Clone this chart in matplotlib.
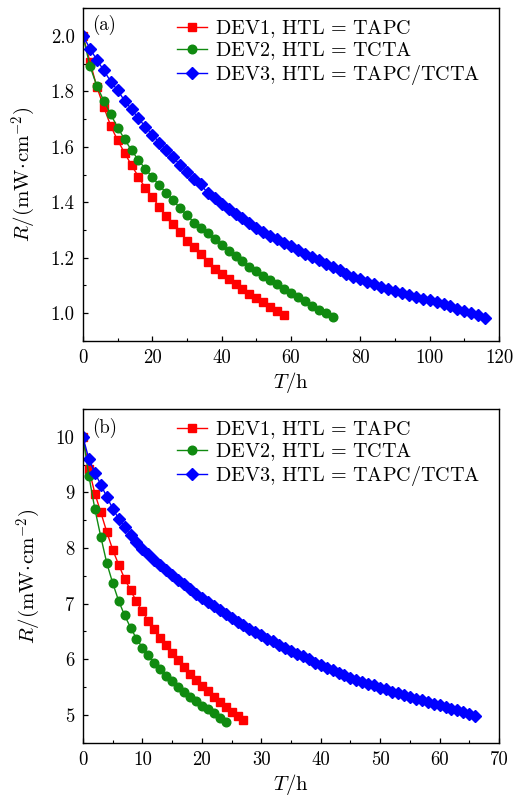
import matplotlib
matplotlib.use("Agg")
import matplotlib.pyplot as plt
from matplotlib.ticker import MultipleLocator, FormatStrFormatter

plt.rcParams['font.family'] = ['cmr10', 'DejaVu Serif']
plt.rcParams['mathtext.fontset'] = 'cm'
plt.rcParams['axes.unicode_minus'] = False

# ---------------- data: panel (a) ----------------
a_t1 = list(range(0, 60, 2))
a_r1 = [2.000, 1.907, 1.815, 1.743, 1.675, 1.623, 1.578, 1.533, 1.492, 1.450,
        1.420, 1.382, 1.351, 1.321, 1.291, 1.262, 1.239, 1.213, 1.185, 1.161,
        1.143, 1.125, 1.107, 1.089, 1.071, 1.055, 1.039, 1.023, 1.007, 0.992]
a_t2 = list(range(0, 74, 2))
a_r2 = [2.000, 1.891, 1.819, 1.766, 1.717, 1.669, 1.627, 1.587, 1.552, 1.520,
        1.491, 1.461, 1.434, 1.408, 1.378, 1.354, 1.327, 1.306, 1.288, 1.266,
        1.245, 1.225, 1.207, 1.188, 1.167, 1.153, 1.135, 1.119, 1.105, 1.088,
        1.073, 1.057, 1.043, 1.026, 1.013, 1.000, 0.987]
a_t3 = list(range(0, 118, 2))
a_r3 = [2.000, 1.954, 1.913, 1.875, 1.835, 1.803, 1.766, 1.735, 1.703, 1.671,
        1.644, 1.615, 1.588, 1.562, 1.534, 1.510, 1.482, 1.465, 1.432, 1.414,
        1.394, 1.374, 1.356, 1.342, 1.326, 1.309, 1.294, 1.280, 1.266, 1.254,
        1.242, 1.227, 1.215, 1.203, 1.191, 1.179, 1.165, 1.155, 1.143, 1.131,
        1.122, 1.111, 1.105, 1.095, 1.089, 1.081, 1.073, 1.067, 1.059, 1.053,
        1.047, 1.041, 1.032, 1.025, 1.017, 1.008, 1.001, 0.993, 0.984]

# ---------------- data: panel (b) ----------------
b_t1 = list(range(0, 28))
b_r1 = [10.00, 9.42, 8.98, 8.64, 8.29, 7.97, 7.70, 7.45, 7.24, 7.04,
        6.86, 6.69, 6.54, 6.39, 6.25, 6.12, 5.98, 5.86, 5.74, 5.62,
        5.52, 5.43, 5.32, 5.23, 5.14, 5.05, 4.98, 4.90]
b_t2 = list(range(0, 25))
b_r2 = [10.00, 9.29, 8.70, 8.20, 7.73, 7.37, 7.05, 6.79, 6.57, 6.37,
        6.21, 6.07, 5.94, 5.82, 5.70, 5.61, 5.50, 5.41, 5.32, 5.25,
        5.16, 5.10, 5.03, 4.95, 4.87]
b_t3 = list(range(0, 67))
b_r3 = [9.99, 9.60, 9.35, 9.14, 8.92, 8.71, 8.53, 8.38, 8.23, 8.11,
        7.99, 7.89, 7.78, 7.69, 7.60, 7.51, 7.42, 7.35, 7.26, 7.18,
        7.11, 7.03, 6.96, 6.88, 6.81, 6.74, 6.67, 6.61, 6.55, 6.49,
        6.43, 6.37, 6.32, 6.26, 6.21, 6.15, 6.10, 6.05, 6.00, 5.94,
        5.89, 5.85, 5.80, 5.76, 5.71, 5.67, 5.63, 5.60, 5.56, 5.53,
        5.49, 5.46, 5.42, 5.39, 5.35, 5.32, 5.29, 5.26, 5.23, 5.20,
        5.17, 5.14, 5.11, 5.08, 5.05, 5.02, 4.98]

labels = [r'DEV1, HTL$\,=\,$TAPC', r'DEV2, HTL$\,=\,$TCTA', r'DEV3, HTL$\,=\,$TAPC/TCTA']
colors = ['#ff0000', '#108a10', '#0000ff']
markers = ['s', 'o', 'D']
msizes = [5.5, 6.2, 6.3]

fig = plt.figure(figsize=(5.2, 7.96), dpi=100)
ax1 = fig.add_axes([83/520, 1-341/796, 416/520, 333/796])
ax2 = fig.add_axes([83/520, 1-742.7/796, 416/520, 333.7/796])

YLABEL = r'$R/(\mathrm{mW}\!\cdot\!\mathrm{cm}^{-2})$'
XLABEL = r'$T/\mathrm{h}$'

def style(ax):
    ax.tick_params(which='both', direction='in', top=False, right=False,
                   labelsize=13.5, pad=6)
    ax.tick_params(which='major', length=3.5, width=0.9)
    ax.tick_params(which='minor', length=2.2, width=0.8)
    for s in ax.spines.values():
        s.set_linewidth(1.0)
    ax.set_xlabel(XLABEL, fontsize=15, labelpad=2)
    ax.set_ylabel(YLABEL, fontsize=15, labelpad=9)
    ax.legend(loc='upper left', bbox_to_anchor=(0.226, 0.97), frameon=False,
              fontsize=14.5, handlelength=1.5, handletextpad=0.4,
              labelspacing=0.04, borderpad=0, borderaxespad=0)

series_a = [(a_t1, a_r1), (a_t2, a_r2), (a_t3, a_r3)]
for (t, r), lab, c, m, ms in zip(series_a, labels, colors, markers, msizes):
    ax1.plot(t, r, color=c, marker=m, markersize=ms, linewidth=1.0, label=lab)
ax1.set_xlim(0, 120)
ax1.set_ylim(0.9, 2.1)
ax1.xaxis.set_major_locator(MultipleLocator(20))
ax1.xaxis.set_minor_locator(MultipleLocator(10))
ax1.yaxis.set_major_locator(MultipleLocator(0.2))
ax1.yaxis.set_minor_locator(MultipleLocator(0.1))
ax1.yaxis.set_major_formatter(FormatStrFormatter('%.1f'))
style(ax1)
ax1.text(0.021, 0.949, '(a)', transform=ax1.transAxes, fontsize=13.5, va='center', ha='left')

series_b = [(b_t1, b_r1), (b_t2, b_r2), (b_t3, b_r3)]
for (t, r), lab, c, m, ms in zip(series_b, labels, colors, markers, msizes):
    ax2.plot(t, r, color=c, marker=m, markersize=ms, linewidth=1.0, label=lab)
ax2.set_xlim(0, 70)
ax2.set_ylim(4.5, 10.5)
ax2.xaxis.set_major_locator(MultipleLocator(10))
ax2.xaxis.set_minor_locator(MultipleLocator(5))
ax2.yaxis.set_major_locator(MultipleLocator(1))
ax2.yaxis.set_minor_locator(MultipleLocator(0.5))
style(ax2)
ax2.text(0.021, 0.942, '(b)', transform=ax2.transAxes, fontsize=13.5, va='center', ha='left')

fig.savefig('out.png', dpi=100)
